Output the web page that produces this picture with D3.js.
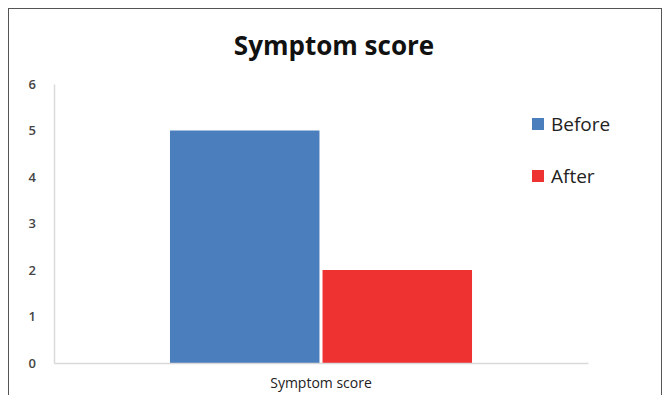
<!DOCTYPE html>
<html>
<head>
<meta charset="utf-8">
<script src="https://cdn.jsdelivr.net/npm/d3@7"></script>
<style>
  html, body { margin: 0; padding: 0; background: #fff; }
  svg { display: block; }
</style>
</head>
<body>
<svg id="chart" width="667" height="395"></svg>
<script>
// Chart data
const categories = ["Symptom score"];
const seriesNames = ["Before", "After"];
const seriesValues = [5, 2];
const seriesColors = ["#4a7ebd", "#ee3232"];
const yTicks = [0, 1, 2, 3, 4, 5, 6];

const svg = d3.select("#chart");
const font = "'Open Sans', 'Noto Sans', sans-serif";

// Outer frame
svg.append("rect")
  .attr("x", 8.5).attr("y", 8.5)
  .attr("width", 653).attr("height", 400)
  .attr("fill", "#fff")
  .attr("stroke", "#555").attr("stroke-width", 1);

// Plot area
const plot = { left: 54, right: 588, top: 84, bottom: 363 };

const x0 = d3.scaleBand()
  .domain(categories)
  .range([plot.left, plot.right])
  .paddingInner(0).paddingOuter(0.384);

const x1 = d3.scaleBand()
  .domain(seriesNames)
  .range([0, x0.bandwidth()])
  .paddingInner(0.02);

const y = d3.scaleLinear().domain([0, 6]).range([plot.bottom, plot.top]);

// Title
svg.append("text")
  .attr("x", 334).attr("y", 55)
  .attr("text-anchor", "middle")
  .attr("font-family", font)
  .attr("font-weight", "bold")
  .attr("font-size", 26)
  .attr("fill", "#111")
  .text("Symptom score");

// Y axis labels
const yAxis = d3.axisLeft(y).tickValues(yTicks).tickFormat(d3.format("d")).tickSize(0).tickPadding(18);
const gy = svg.append("g")
  .attr("transform", `translate(${plot.left},0)`)
  .call(yAxis);
gy.select(".domain").attr("stroke", "#d9d9d9").attr("stroke-width", 1.5);
gy.selectAll("text")
  .attr("font-family", font)
  .attr("font-size", 13)
  .attr("font-weight", "600")
  .attr("fill", "#444");

// Bars
const gBars = svg.append("g");
categories.forEach(cat => {
  gBars.selectAll(null)
    .data(seriesNames.map((name, i) => ({ name, value: seriesValues[i], color: seriesColors[i] })))
    .join("rect")
    .attr("x", d => x0(cat) + x1(d.name))
    .attr("y", d => y(d.value))
    .attr("width", x1.bandwidth())
    .attr("height", d => y(0) - y(d.value))
    .attr("fill", d => d.color);
});

// X axis baseline and category label
const xAxis = d3.axisBottom(x0).tickSize(0).tickPadding(15);
const gx = svg.append("g")
  .attr("transform", `translate(0,${plot.bottom})`)
  .call(xAxis);
gx.select(".domain").attr("stroke", "#d9d9d9").attr("stroke-width", 1.5);
gx.selectAll("text")
  .attr("font-family", font)
  .attr("font-size", 14)
  .attr("fill", "#222");

// Legend
const legend = svg.append("g");
seriesNames.forEach((name, i) => {
  const ly = 118 + i * 52;
  legend.append("rect")
    .attr("x", 532).attr("y", ly)
    .attr("width", 12).attr("height", 12)
    .attr("fill", seriesColors[i]);
  legend.append("text")
    .attr("x", 551).attr("y", ly + 13)
    .attr("font-family", font)
    .attr("font-size", 19)
    .attr("fill", "#222")
    .text(name);
});
</script>
</body>
</html>
